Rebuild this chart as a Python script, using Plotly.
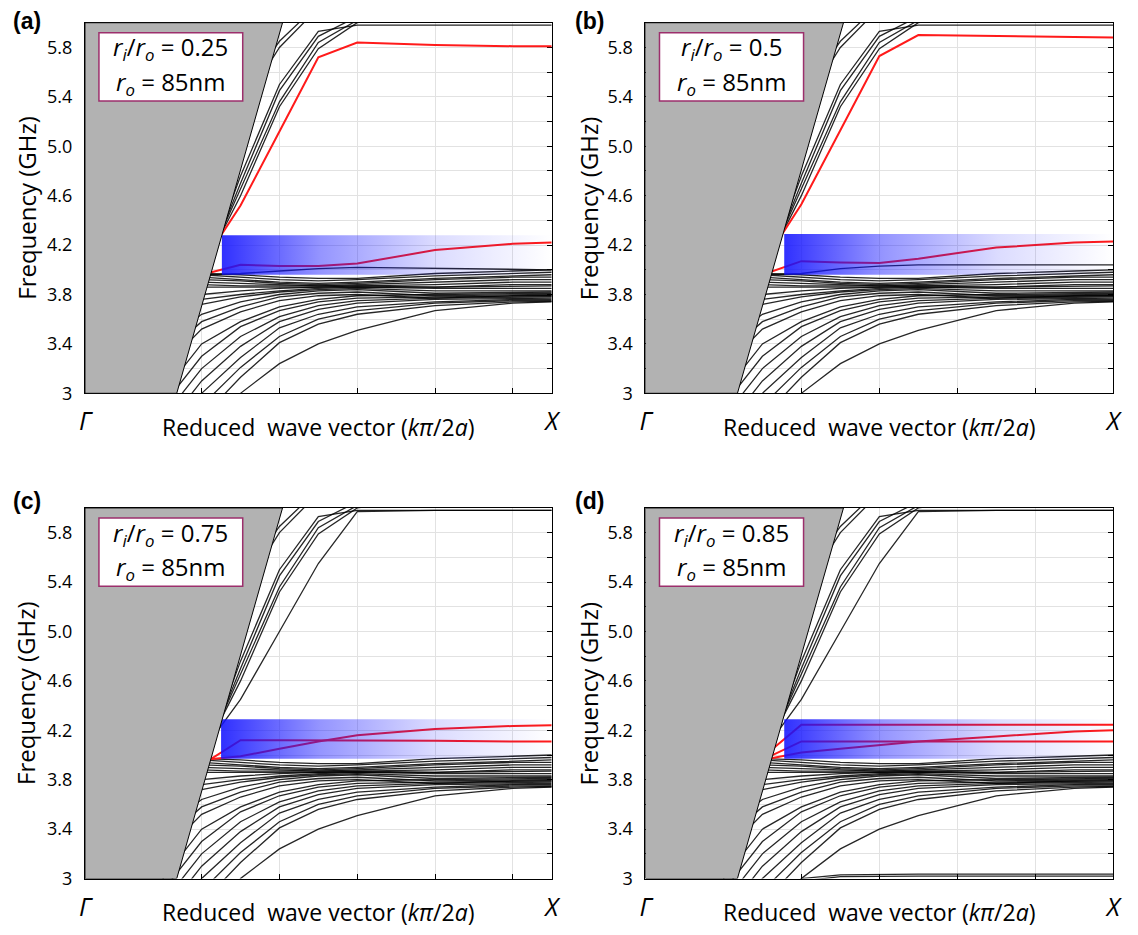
import plotly.graph_objects as go

# ---------------- data ----------------
K = [1.0, 1.5, 2.0, 2.5, 3.0, 3.5, 4.5, 5.5, 6.0]   # reduced wave vector samples (Gamma=0, X=6)

Y_TICKS = [3.0, 3.4, 3.8, 4.2, 4.6, 5.0, 5.4, 5.8]
Y_TICK_TEXT = ['3', '3.4', '3.8', '4.2', '4.6', '5.0', '5.4', '5.8']
Y_MINOR = [3.2, 3.6, 4.0, 4.4, 4.8, 5.2, 5.6, 6.0]
X_ENDS = [0, 6]
X_END_TEXT = ['<i>Γ</i>', '<i>X</i>']
X_GRID_AC = [1.5, 2.5, 3.5, 4.5, 5.5]
X_GRID_BD = [2, 3, 4, 5]

LIGHT_K = [1.18, 2.54]      # k where the light line reaches 3 GHz and 6 GHz
LIGHT_F = [3.0, 6.0]

# upper black bands (above the gap)
BANDS_HIGH = [
    [None, 3.90, 4.76, 5.50, 5.93, 5.98, 5.98, 5.98, 5.98],
    [None, 3.92, 4.70, 5.45, 5.89, 6.05, 6.10, 6.10, 6.10],
    [None, 3.95, 4.65, 5.36, 5.84, 6.02, 6.10, 6.10, 6.10],
    [None, 3.98, 4.60, 5.32, 5.79, 6.00, 6.10, 6.10, 6.10],
    [None, None, 5.30, 5.80, 6.12, 6.20, 6.20, 6.20, 6.20],
    [None, None, 5.40, 5.85, 6.15, 6.20, 6.20, 6.20, 6.20],
]

# lower black bands (below the gap)
BANDS_LOW = [
    [None, 3.97, 3.96, 3.94, 3.93, 3.93, 3.97, 3.99, 4.00],
    [None, 3.96, 3.94, 3.92, 3.91, 3.92, 3.95, 3.97, 3.98],
    [None, 3.94, 3.92, 3.90, 3.89, 3.90, 3.93, 3.95, 3.96],
    [None, 3.92, 3.91, 3.89, 3.88, 3.89, 3.92, 3.94, 3.94],
    [None, 3.90, 3.89, 3.88, 3.87, 3.88, 3.90, 3.92, 3.92],
    [None, 3.88, 3.87, 3.87, 3.87, 3.87, 3.88, 3.90, 3.90],
    [None, 3.86, 3.86, 3.86, 3.86, 3.86, 3.86, 3.88, 3.88],
    [None, 3.80, 3.83, 3.85, 3.86, 3.87, 3.86, 3.87, 3.87],
    [None, 3.76, 3.80, 3.83, 3.85, 3.86, 3.85, 3.85, 3.85],
    [None, 3.72, 3.78, 3.82, 3.84, 3.85, 3.83, 3.83, 3.83],
    [3.40, 3.64, 3.74, 3.80, 3.83, 3.84, 3.81, 3.82, 3.82],
    [3.30, 3.58, 3.70, 3.78, 3.81, 3.82, 3.79, 3.80, 3.80],
    [3.20, 3.52, 3.66, 3.75, 3.79, 3.80, 3.77, 3.79, 3.79],
    [3.00, 3.40, 3.58, 3.70, 3.76, 3.79, 3.80, 3.81, 3.81],
    [2.90, 3.30, 3.54, 3.67, 3.74, 3.77, 3.78, 3.79, 3.79],
    [2.80, 3.20, 3.46, 3.62, 3.71, 3.75, 3.77, 3.78, 3.78],
    [2.70, 3.10, 3.38, 3.58, 3.68, 3.73, 3.76, 3.77, 3.77],
    [2.60, 3.00, 3.29, 3.53, 3.64, 3.70, 3.74, 3.76, 3.76],
    [None, 2.90, 3.21, 3.46, 3.60, 3.67, 3.73, 3.75, 3.75],
    [None, 2.80, 3.13, 3.41, 3.56, 3.64, 3.71, 3.74, 3.745],
    [None, 2.40, 3.00, 3.24, 3.40, 3.51, 3.67, 3.73, 3.74],
]

BLACK_EXTRA_A = [[None, 3.96, 3.97, 3.99, 4.01, 4.02, 4.01, 4.00, 4.00]]
BLACK_EXTRA_B = [[None, 3.96, 3.97, 4.01, 4.03, 4.04, 4.04, 4.04, 4.04]]
BLACK_EXTRA_C = [[None, 4.02, 4.45, 5.00, 5.55, 5.97, 5.98, 5.98, 5.98]]
BLACK_EXTRA_D = [
    [None, 4.02, 4.45, 5.00, 5.55, 5.97, 5.98, 5.98, 5.98],
    [None, 2.40, 3.00, 3.03, 3.035, 3.035, 3.035, 3.035, 3.035],
    [None, 2.50, 2.98, 3.015, 3.02, 3.02, 3.02, 3.02, 3.02],
]

RED_A = [
    [None, 4.04, 4.52, 5.12, 5.72, 5.84, 5.82, 5.81, 5.81],
    [None, 3.96, 4.04, 4.03, 4.03, 4.05, 4.16, 4.21, 4.22],
]
RED_B = [
    [None, 4.04, 4.53, 5.13, 5.73, 5.90, 5.89, 5.88, 5.88],
    [None, 3.96, 4.07, 4.06, 4.055, 4.09, 4.18, 4.22, 4.23],
]
RED_C = [
    [None, 3.92, 4.12, 4.12, 4.12, 4.12, 4.115, 4.11, 4.11],
    [None, 3.96, 3.99, 4.05, 4.11, 4.16, 4.21, 4.235, 4.24],
]
RED_D = [
    [None, 3.98, 4.245, 4.245, 4.245, 4.245, 4.245, 4.245, 4.245],
    [None, 3.96, 4.11, 4.11, 4.11, 4.11, 4.11, 4.11, 4.11],
    [None, 3.96, 4.02, 4.05, 4.08, 4.11, 4.15, 4.19, 4.20],
]

GAP_K0 = [1.76, 1.78, 1.75, 1.78]
GAP_LO = [3.96, 3.96, 3.97, 3.97]
GAP_HI = [4.28, 4.29, 4.29, 4.29]

RATIOS = ['0.25', '0.5', '0.75', '0.85']
R_OUTER = '85nm'
PANEL_LABELS = ['(a)', '(b)', '(c)', '(d)']

# ---------------- layout geometry ----------------
W, H = 1138, 935
X_DOM = [[80 / W, 553 / W], [648 / W, 1122 / W], [80 / W, 553 / W], [648 / W, 1122 / W]]
Y_DOM = [[1 - 398 / H, 1 - 23 / H], [1 - 398 / H, 1 - 23 / H],
         [1 - 889 / H, 1 - 514 / H], [1 - 889 / H, 1 - 514 / H]]

FONT = 'Open Sans'
fig = go.Figure()

extras = [BLACK_EXTRA_A, BLACK_EXTRA_B, BLACK_EXTRA_C, BLACK_EXTRA_D]
reds = [RED_A, RED_B, RED_C, RED_D]

for i in range(4):
    xa = 'x' if i == 0 else f'x{i+1}'
    ya = 'y' if i == 0 else f'y{i+1}'
    for band in BANDS_HIGH + BANDS_LOW + extras[i]:
        fig.add_trace(go.Scatter(x=K, y=band, mode='lines', xaxis=xa, yaxis=ya,
                                 line=dict(color='rgba(0,0,0,0.85)', width=1.3),
                                 hoverinfo='skip', showlegend=False))
    for band in reds[i]:
        fig.add_trace(go.Scatter(x=K, y=band, mode='lines', xaxis=xa, yaxis=ya,
                                 line=dict(color='#ff1a1a', width=2),
                                 hoverinfo='skip', showlegend=False))
    # gap highlight with horizontal gradient
    fig.add_trace(go.Scatter(
        x=[GAP_K0[i], K[-1], K[-1], GAP_K0[i], GAP_K0[i]],
        y=[GAP_LO[i], GAP_LO[i], GAP_HI[i], GAP_HI[i], GAP_LO[i]],
        mode='none', fill='toself', xaxis=xa, yaxis=ya,
        fillgradient=dict(type='horizontal', colorscale=[
            [0.0, 'rgba(20,20,255,0.88)'], [0.3, 'rgba(20,20,255,0.45)'],
            [0.65, 'rgba(20,20,255,0.15)'], [1.0, 'rgba(20,20,255,0.0)']]),
        hoverinfo='skip', showlegend=False))
    # light cone
    fig.add_trace(go.Scatter(
        x=[0, LIGHT_K[0], LIGHT_K[1], 0, 0],
        y=[LIGHT_F[0], LIGHT_F[0], LIGHT_F[1], LIGHT_F[1], LIGHT_F[0]],
        mode='lines', fill='toself', fillcolor='#b2b2b2', xaxis=xa, yaxis=ya,
        line=dict(color='black', width=1), hoverinfo='skip', showlegend=False))

    xgrid = X_GRID_AC if i in (0, 2) else X_GRID_BD
    xkey = 'xaxis' if i == 0 else f'xaxis{i+1}'
    ykey = 'yaxis' if i == 0 else f'yaxis{i+1}'
    fig.layout[xkey] = dict(domain=X_DOM[i], range=[0, 6], anchor=ya, showline=True,
                            linecolor='black', linewidth=1, mirror=True, showgrid=False,
                            zeroline=False, tickvals=X_ENDS, ticktext=X_END_TEXT,
                            ticks='', layer='below traces',
                            minor=dict(tickvals=xgrid, showgrid=True, gridcolor='#e2e2e2',
                                       gridwidth=1, ticks='inside', ticklen=5,
                                       tickcolor='black'),
                            tickfont=dict(family=FONT, size=25, color='black'),
                            ticklabelstandoff=6, fixedrange=True)
    fig.layout[ykey] = dict(domain=Y_DOM[i], range=[3, 6], anchor=xa, showline=True,
                            linecolor='black', linewidth=1, mirror='ticks', showgrid=True,
                            gridcolor='#e2e2e2', gridwidth=1, zeroline=False,
                            tickvals=Y_TICKS, ticktext=Y_TICK_TEXT, ticks='inside', ticklen=5,
                            tickcolor='black', layer='below traces',
                            minor=dict(tickvals=Y_MINOR, showgrid=True, gridcolor='#e2e2e2',
                                       gridwidth=1, ticks='inside', ticklen=5,
                                       tickcolor='black'),
                            tickfont=dict(family=FONT, size=18, color='black'),
                            ticklabelstandoff=8, fixedrange=True)

    xd = 'x domain' if i == 0 else f'x{i+1} domain'
    yd = 'y domain' if i == 0 else f'y{i+1} domain'
    # inset parameter box
    fig.add_shape(type='rect', xref=xd, yref=yd, x0=0.030, x1=0.338, y0=0.789, y1=0.973,
                  fillcolor='white', line=dict(color='#9c2f6c', width=1.5), layer='above')
    fig.add_annotation(
        xref=xd, yref=yd, x=0.184, y=(398 - 49) / 375, xanchor='center', yanchor='middle',
        text=f'<i>r</i><sub><i>i</i></sub>/<i>r</i><sub><i>o</i></sub> = {RATIOS[i]}',
        showarrow=False, font=dict(family=FONT, size=24, color='black'))
    fig.add_annotation(
        xref=xd, yref=yd, x=0.184, y=(398 - 84) / 375, xanchor='center', yanchor='middle',
        text=f'<i>r</i><sub><i>o</i></sub> = {R_OUTER}',
        showarrow=False, font=dict(family=FONT, size=24, color='black'))
    # x-axis title
    fig.add_annotation(
        xref=xd, yref=yd, x=0.5, y=-34 / 375, xanchor='center', yanchor='middle',
        text='Reduced&nbsp; wave vector (<i>k</i><i>π</i>/2<i>a</i>)', showarrow=False,
        font=dict(family=FONT, size=23, color='black'))
    # y-axis title
    fig.add_annotation(
        xref='paper', yref=yd, x=(20 if i in (0, 2) else 590) / W, y=0.5,
        xanchor='center', yanchor='middle', textangle=-90, text='Frequency (GHz)',
        showarrow=False, font=dict(family=FONT, size=24, color='black'))
    # panel label
    fig.add_annotation(
        xref='paper', yref='paper', x=(5 if i in (0, 2) else 575) / W,
        y=1 - (6 if i < 2 else 492) / H, xanchor='left', yanchor='top',
        text=f'<b>{PANEL_LABELS[i]}</b>', showarrow=False,
        font=dict(family='Liberation Sans', size=23, color='black'))

fig.update_layout(width=W, height=H, margin=dict(l=0, r=0, t=0, b=0),
                  paper_bgcolor='white', plot_bgcolor='white', showlegend=False)
fig.write_html('out.html')
